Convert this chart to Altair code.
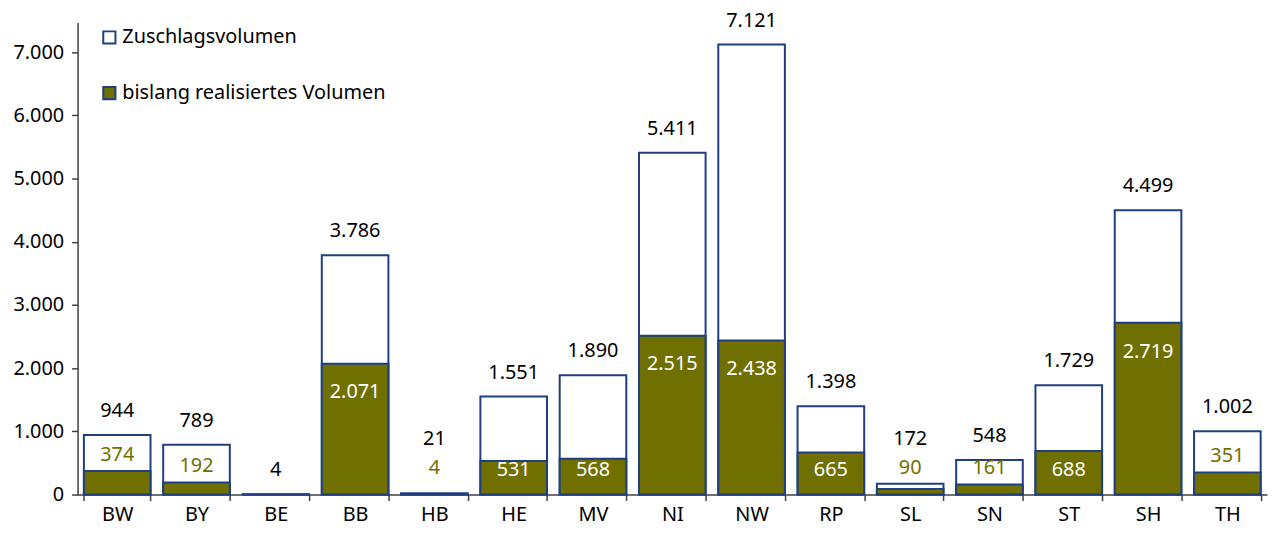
import altair as alt
import pandas as pd

states = ["BW", "BY", "BE", "BB", "HB", "HE", "MV", "NI", "NW", "RP", "SL", "SN", "ST", "SH", "TH"]
total = [944, 789, 4, 3786, 21, 1551, 1890, 5411, 7121, 1398, 172, 548, 1729, 4499, 1002]
realized = [374, 192, 0, 2071, 4, 531, 568, 2515, 2438, 665, 90, 161, 688, 2719, 351]

S_TOTAL = "Zuschlagsvolumen"
S_REAL = "bislang realisiertes Volumen"
series_names = [S_TOTAL, S_REAL]

NAVY = "#1f3f80"
OLIVE = "#6f7000"
FONT = "Noto Sans"

rows = []
for s, t, r in zip(states, total, realized):
    rows.append({"state": s, "series": S_TOTAL, "value": t, "ord": 0})
    rows.append({"state": s, "series": S_REAL, "value": r, "ord": 1})
bars_df = pd.DataFrame(rows)
wide = pd.DataFrame({"state": states, "total": total, "realized": realized})

x_enc = alt.X(
    "state:N",
    sort=states,
    scale=alt.Scale(paddingInner=0.16, paddingOuter=0.08),
    axis=alt.Axis(title=None, labelAngle=0, tickBand="extent", tickSize=6,
                  labelPadding=4, domainWidth=1.5, tickWidth=1.5),
)
yscale = alt.Scale(domain=[0, 7470], nice=False)

bars = alt.Chart(bars_df).mark_bar(stroke=NAVY, strokeWidth=2).encode(
    x=x_enc,
    y=alt.Y(
        "value:Q",
        stack=None,
        scale=yscale,
        axis=alt.Axis(
            title=None, grid=False, values=list(range(0, 8000, 1000)),
            labelExpr="replace(format(datum.value, ','), ',', '.')",
            tickSize=6, labelPadding=8, domainWidth=1.5, tickWidth=1.5,
        ),
    ),
    color=alt.Color(
        "series:N",
        scale=alt.Scale(domain=series_names, range=["white", OLIVE]),
        legend=alt.Legend(
            title=None, orient="none", legendX=22, legendY=5,
            symbolType="square", symbolSize=150, symbolStrokeColor=NAVY,
            symbolStrokeWidth=2, labelFontSize=20, labelFont=FONT,
            labelColor="black", rowPadding=34, labelOffset=3, labelLimit=0,
        ),
    ),
    order=alt.Order("ord:Q"),
)

fmt = "replace(format({f}, ','), ',', '.')"

total_labels = alt.Chart(wide).transform_calculate(
    anchor="datum.realized > 0 ? max(datum.total, 500) : datum.total",
    label=fmt.format(f="datum.total"),
).mark_text(dy=-24, baseline="middle", fontSize=20, font=FONT, color="black").encode(
    x=alt.X("state:N", sort=states), y=alt.Y("anchor:Q", scale=yscale), text="label:N"
)

inner_labels = alt.Chart(wide).transform_filter("datum.realized >= 500").transform_calculate(
    anchor="max(datum.realized, 845)",
    label=fmt.format(f="datum.realized"),
).mark_text(dy=29, baseline="middle", fontSize=20, font=FONT, color="white").encode(
    x=alt.X("state:N", sort=states), y=alt.Y("anchor:Q", scale=yscale), text="label:N"
)

small_labels = alt.Chart(wide).transform_filter(
    "datum.realized > 0 && datum.realized < 500"
).transform_calculate(
    anchor="max(datum.realized, 174)",
    label=fmt.format(f="datum.realized"),
).mark_text(dy=-16, baseline="middle", fontSize=20, font=FONT, color=OLIVE).encode(
    x=alt.X("state:N", sort=states), y=alt.Y("anchor:Q", scale=yscale), text="label:N"
)

chart = alt.layer(bars, total_labels, inner_labels, small_labels).properties(
    width=1197,
    height=475,
    autosize=alt.AutoSizeParams(type="none"),
    padding={"left": 70, "top": 13, "right": 2, "bottom": 30},
).configure_view(stroke=None).configure_axis(
    labelFont=FONT, labelFontSize=20, labelColor="black",
    domainColor="#404040", tickColor="#404040",
)

chart.save("out.html", embed_options={"renderer": "svg", "actions": False})
